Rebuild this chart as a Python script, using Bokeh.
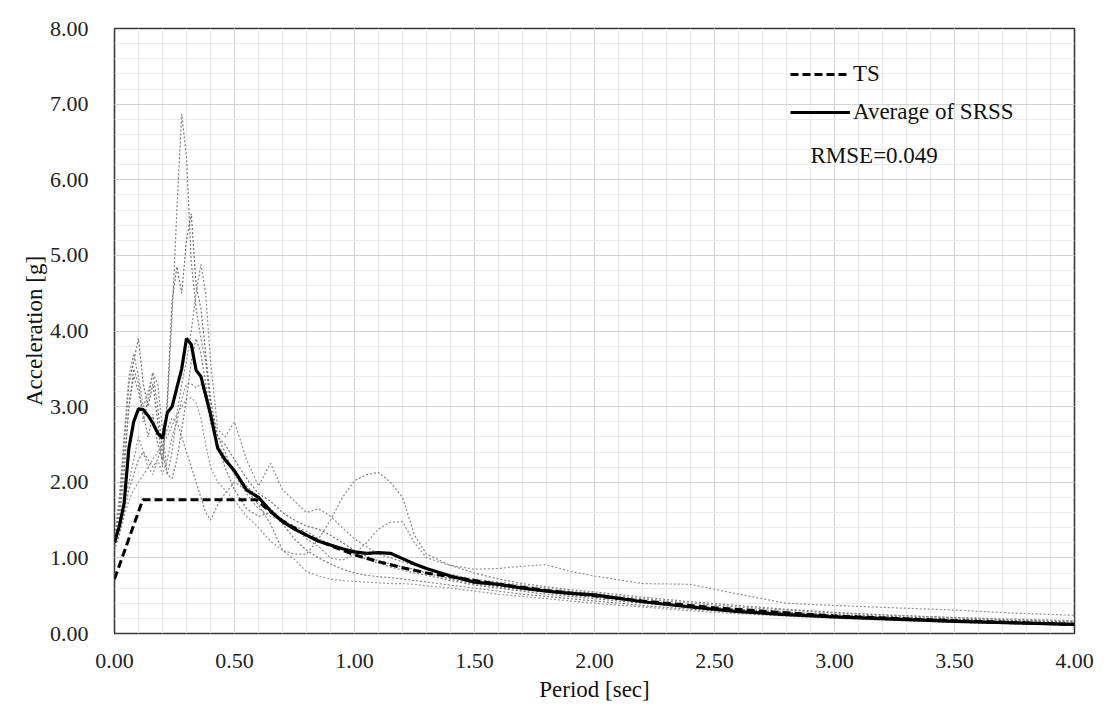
from bokeh.plotting import figure
from bokeh.models import (SingleIntervalTicker, PrintfTickFormatter, Legend,
                          LegendItem, Label, Range1d)
from bokeh.embed import file_html
from bokeh.resources import INLINE

# ---------------- data ----------------
period = [0.00, 0.02, 0.04, 0.06, 0.08, 0.10, 0.12, 0.14, 0.16, 0.18,
          0.20, 0.22, 0.24, 0.26, 0.28, 0.30, 0.32, 0.34, 0.36, 0.38,
          0.40, 0.43, 0.46, 0.50, 0.55, 0.60, 0.65, 0.70, 0.75, 0.80,
          0.85, 0.90, 0.95, 1.00, 1.05, 1.10, 1.15, 1.20, 1.25, 1.30,
          1.40, 1.50, 1.60, 1.70, 1.80, 1.90, 2.00, 2.20, 2.40, 2.60,
          2.80, 3.00, 3.25, 3.50, 3.75, 4.00]

record_1 = [1.15, 1.50, 2.10, 3.00, 3.40, 3.20, 2.90, 2.60, 2.90, 2.50,
            2.30, 3.00, 4.20, 5.60, 6.87, 6.30, 4.90, 4.30, 3.90, 3.60,
            3.00, 2.60, 2.40, 2.10, 1.95, 1.80, 1.65, 1.50, 1.42, 1.35,
            1.25, 1.18, 1.12, 1.05, 0.98, 0.93, 0.88, 0.84, 0.80, 0.77,
            0.70, 0.64, 0.60, 0.56, 0.52, 0.49, 0.46, 0.40, 0.35, 0.31,
            0.27, 0.24, 0.21, 0.18, 0.15, 0.13]

record_2 = [1.20, 1.70, 2.50, 3.30, 3.60, 3.90, 3.30, 3.00, 3.30, 2.80,
            2.20, 3.10, 4.40, 4.85, 4.50, 5.20, 5.55, 4.60, 4.30, 3.70,
            3.10, 2.60, 2.50, 2.30, 2.05, 1.85, 1.75, 1.60, 1.50, 1.42,
            1.38, 1.30, 1.20, 1.10, 1.02, 0.96, 0.92, 0.88, 0.85, 0.80,
            0.72, 0.66, 0.62, 0.58, 0.55, 0.51, 0.48, 0.42, 0.37, 0.32,
            0.28, 0.25, 0.22, 0.19, 0.17, 0.15]

record_3 = [1.25, 1.80, 2.60, 3.40, 3.70, 3.40, 3.00, 3.20, 3.45, 3.30,
            2.70, 2.10, 2.40, 2.90, 3.30, 3.60, 4.00, 4.50, 4.88, 4.50,
            3.60, 2.70, 2.60, 2.80, 2.30, 1.95, 2.25, 1.90, 1.75, 1.60,
            1.65, 1.55, 1.40, 1.25, 1.15, 1.05, 1.00, 0.95, 0.90, 0.85,
            0.78, 0.72, 0.68, 0.64, 0.60, 0.56, 0.53, 0.46, 0.40, 0.35,
            0.31, 0.27, 0.24, 0.21, 0.19, 0.17]

record_4 = [1.10, 1.30, 1.55, 1.75, 1.90, 2.00, 2.10, 2.20, 2.30, 2.40,
            2.50, 2.60, 2.75, 2.90, 3.00, 3.10, 3.12, 3.05, 2.85, 2.50,
            2.20, 2.00, 1.90, 1.76, 1.55, 1.40, 1.22, 1.10, 0.98, 0.82,
            0.76, 0.72, 0.70, 0.69, 0.68, 0.67, 0.66, 0.66, 0.65, 0.63,
            0.60, 0.56, 0.52, 0.49, 0.46, 0.43, 0.40, 0.35, 0.30, 0.26,
            0.23, 0.20, 0.17, 0.15, 0.13, 0.11]

record_5 = [1.15, 1.30, 1.60, 1.90, 2.10, 2.30, 2.40, 2.30, 2.20, 2.30,
            2.50, 2.70, 2.85, 2.80, 2.60, 2.40, 2.20, 2.00, 1.80, 1.60,
            1.50, 1.70, 1.85, 2.00, 1.90, 1.70, 1.45, 1.10, 1.05, 1.05,
            1.25, 1.50, 1.80, 2.02, 2.10, 2.13, 2.00, 1.80, 1.30, 1.05,
            0.90, 0.80, 0.72, 0.66, 0.62, 0.58, 0.55, 0.48, 0.42, 0.37,
            0.32, 0.28, 0.24, 0.21, 0.18, 0.16]

record_6 = [1.20, 1.40, 1.70, 2.00, 2.30, 2.60, 2.40, 2.20, 2.10, 2.30,
            2.10, 2.30, 2.60, 2.80, 3.10, 3.30, 3.30, 3.25, 3.30, 3.10,
            2.80, 2.50, 2.35, 2.10, 1.85, 1.65, 1.55, 1.50, 1.40, 1.25,
            1.15, 1.00, 0.97, 1.05, 1.20, 1.38, 1.47, 1.48, 1.20, 1.00,
            0.90, 0.85, 0.86, 0.89, 0.91, 0.82, 0.76, 0.66, 0.65, 0.52,
            0.40, 0.37, 0.34, 0.31, 0.27, 0.24]

record_7 = [1.20, 1.60, 2.30, 3.00, 3.50, 3.30, 2.80, 3.10, 3.45, 3.00,
            2.40, 2.10, 2.05, 2.30, 2.70, 3.10, 3.60, 3.90, 3.70, 3.30,
            2.90, 2.50, 2.20, 1.90, 1.65, 1.55, 1.60, 1.45, 1.25, 1.10,
            1.00, 0.92, 0.85, 0.80, 0.77, 0.75, 0.74, 0.72, 0.70, 0.68,
            0.64, 0.60, 0.56, 0.52, 0.49, 0.46, 0.43, 0.37, 0.32, 0.28,
            0.24, 0.21, 0.18, 0.15, 0.13, 0.11]

avg_srss = [1.20, 1.42, 1.72, 2.45, 2.80, 2.97, 2.96, 2.88, 2.78, 2.65,
            2.58, 2.92, 3.00, 3.25, 3.50, 3.90, 3.82, 3.48, 3.40, 3.15,
            2.90, 2.45, 2.30, 2.15, 1.90, 1.80, 1.62, 1.48, 1.38, 1.30,
            1.22, 1.17, 1.12, 1.08, 1.06, 1.07, 1.06, 0.99, 0.92, 0.86,
            0.76, 0.68, 0.65, 0.60, 0.56, 0.53, 0.51, 0.42, 0.35, 0.29,
            0.25, 0.22, 0.19, 0.16, 0.14, 0.12]

ts_period = [0.00, 0.118, 0.59, 0.65, 0.70, 0.80, 0.90, 1.00, 1.10, 1.20,
             1.30, 1.40, 1.50, 1.60, 1.80, 2.00, 2.20, 2.50, 3.00, 3.50, 4.00]
ts_accel = [0.72, 1.77, 1.77, 1.61, 1.49, 1.30, 1.16, 1.04, 0.95, 0.87,
            0.80, 0.75, 0.70, 0.65, 0.57, 0.50, 0.43, 0.34, 0.23, 0.17, 0.12]

records = [record_1, record_2, record_3, record_4, record_5, record_6, record_7]
record_colors = ["#7e7e7e", "#6e6e6e", "#8a8a8a", "#9a9a9a", "#828282", "#909090", "#7a7a7a"]

SERIF = "Liberation Serif"

# ---------------- figure ----------------
p = figure(frame_width=960, frame_height=605,
           x_range=Range1d(0, 4), y_range=Range1d(0, 8),
           output_backend="svg", toolbar_location=None,
           min_border_left=114, min_border_top=28,
           min_border_right=23, min_border_bottom=62,
           background_fill_color="white", border_fill_color="white")

p.outline_line_color = "#3a3a3a"
p.outline_line_width = 1.6

p.xaxis.ticker = SingleIntervalTicker(interval=0.5, num_minor_ticks=5)
p.yaxis.ticker = SingleIntervalTicker(interval=1.0, num_minor_ticks=5)
for ax in (p.xaxis, p.yaxis):
    ax.formatter = PrintfTickFormatter(format="%.2f")
    ax.major_tick_line_color = None
    ax.minor_tick_line_color = None
    ax.axis_line_color = None
    ax.major_label_text_font = SERIF
    ax.major_label_text_font_size = "22px"
    ax.major_label_text_color = "#222222"
    ax.axis_label_text_font = SERIF
    ax.axis_label_text_font_size = "23px"
    ax.axis_label_text_font_style = "normal"
    ax.axis_label_text_color = "#111111"

p.xaxis.axis_label = "Period [sec]"
p.yaxis.axis_label = "Acceleration [g]"
p.xaxis.major_label_standoff = 14
p.yaxis.major_label_standoff = 20
p.xaxis.axis_label_standoff = 6
p.yaxis.axis_label_standoff = 0

p.xgrid.grid_line_color = "#d2d2d2"
p.ygrid.grid_line_color = "#d2d2d2"
p.xgrid.minor_grid_line_color = "#ececec"
p.ygrid.minor_grid_line_color = "#ececec"

for rec, col in zip(records, record_colors):
    p.line(period, rec, line_color=col, line_width=1.2, line_dash="2 2")

ts_r = p.line(ts_period, ts_accel, line_color="black", line_width=3, line_dash="8 4")
avg_r = p.line(period, avg_srss, line_color="black", line_width=3.2)

legend = Legend(items=[LegendItem(label="TS", renderers=[ts_r]),
                       LegendItem(label="Average of SRSS", renderers=[avg_r])],
                location=(676, 508), orientation="vertical",
                glyph_width=60, glyph_height=26, label_height=26,
                label_standoff=3, spacing=12, padding=0, margin=0,
                label_text_font=SERIF, label_text_font_size="23px",
                label_text_color="#111111",
                background_fill_alpha=0, border_line_color=None)
p.add_layout(legend, "center")

rmse = Label(x=696, y=478, x_units="screen", y_units="screen",
             text="RMSE=0.049", text_font=SERIF, text_font_size="23px",
             text_baseline="middle", text_color="#111111")
p.add_layout(rmse)

open("out.html", "w").write(file_html(p, INLINE))
